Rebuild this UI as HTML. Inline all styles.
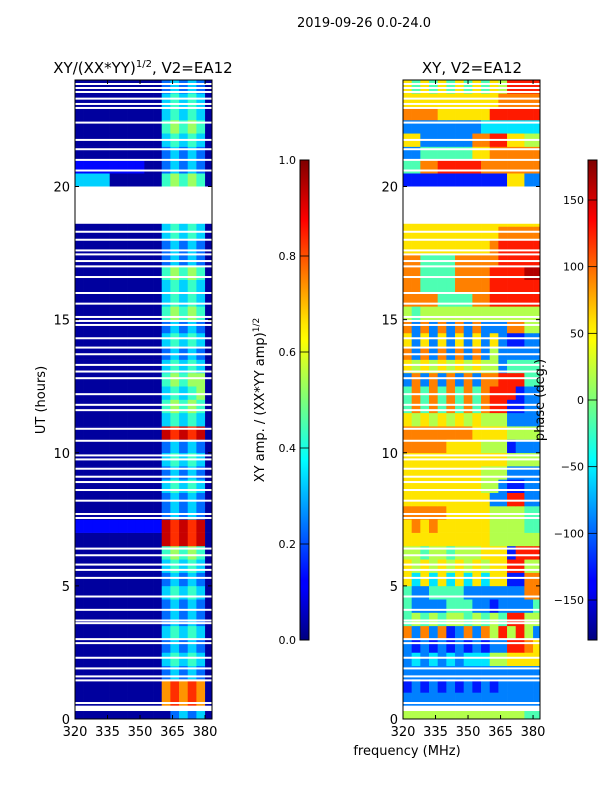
<!DOCTYPE html>
<html><head><meta charset="utf-8">
<style>
html,body{margin:0;padding:0;background:#fff;}
svg{display:block;font-family:"DejaVu Sans","Liberation Sans",sans-serif;}
</style></head>
<body>
<svg id="fig" width="600" height="800" viewBox="0 0 600 800" xmlns="http://www.w3.org/2000/svg">
<defs>
<linearGradient id="jet" x1="0" y1="1" x2="0" y2="0">
<stop offset="0" stop-color="#00007f"/><stop offset="0.11" stop-color="#0000ff"/>
<stop offset="0.125" stop-color="#0000ff"/><stop offset="0.34" stop-color="#00dcff"/>
<stop offset="0.375" stop-color="#00ffff"/><stop offset="0.5" stop-color="#7cff79"/>
<stop offset="0.625" stop-color="#ffff00"/><stop offset="0.66" stop-color="#ffe600"/>
<stop offset="0.875" stop-color="#ff0000"/><stop offset="1" stop-color="#7f0000"/>
</linearGradient>
</defs>
<text x="364" y="27" font-size="13" text-anchor="middle">2019-09-26 0.0-24.0</text>
<text x="143" y="73" font-size="15" text-anchor="middle">XY/(XX*YY)<tspan font-size="10" dy="-6">1/2</tspan><tspan dy="6">, V2=EA12</tspan></text>
<text x="472" y="73" font-size="15" text-anchor="middle">XY, V2=EA12</text>
<g id="leftHeat"></g>
<g id="rightHeat"></g>
<g id="axes"></g>
<text transform="translate(45,400) rotate(-90)" font-size="13" text-anchor="middle">UT (hours)</text>
<text transform="translate(264,400) rotate(-90)" font-size="13" text-anchor="middle">XY amp. / (XX*YY amp)<tspan font-size="9" dy="-5">1/2</tspan></text>
<text transform="translate(544,400) rotate(-90)" font-size="13" text-anchor="middle">phase (deg.)</text>
<text x="407" y="755" font-size="13" text-anchor="middle">frequency (MHz)</text>
</svg>
<script>
const freqTicks=[320,335,350,365,380];
const timeTicks=[0,5,10,15,20];
const ampTicks=[0.0,0.2,0.4,0.6,0.8,1.0];
const phaseTicks=[-150,-100,-50,0,50,100,150];
// amplitude rows (0.5 h each, from 0 h upward), 16 channels 320-384 MHz, digit = tenths
const ampRows=["0000000000023230","0000000000787870","0000000000787870","0000000000232320","0000000000343430","0000000000232320","0000000000343430","0000000000232320","0000000000232320","0000000000343430","0000000000232320","0000000000343430","0000000000454540","0000000000989890","1111111111989890","0000000000232320","0000000000232320","0000000000343430","0000000000232320","0000000000343430","0000000000232320","0000000000989890","0000000000343430","0000000000454540","0000000000343450","0000000000454550","0000000000343430","0000000000232320","0000000000343430","0000000000232320","0000000000454540","0000000000343430","0000000000343430","0000000000454540","0000000000232320","0000000000232320","0000000000343430","0000000000343430","0000000000343430","0000000000343430","3333000000454540","1111111100232320","0000000000232320","0000000000343430","0000000000454540","0000000000343430","0000000000343430","0000000000232320"];
// phase rows, digit d -> -162+36*d degrees
const phaseRows=["5555555555555544","2222222222222222","1212121212122222","2222222222222222","2323232333556666","2121212121228876","7272712727585852","4545455454548855","4222244422122224","4224444222222277","6363636363661177","6565656565668855","5545545556661888","6666666666555555","6767666666555544","7777766666555544","6666666666228822","6666666665521122","6666666665552222","6666666666665555","7777766665551222","7777777766665555","6565656565552222","4747474747881122","4747474747888122","2727272727788844","6565656565524444","7272727272522222","6262626262621122","7272727272227755","5455555555555555","7777444477888888","7744447777888888","7744447777888899","7744447777788888","6666666666788888","6666666666677777","6666666666666666","6666666666666666","6666666666666666","1111111111116622","4477888887777777","2244444466777777","6622222277886655","2222222223333333","7777666666888888","6666666666677777","6464646464658888"];
const blankBands=[[18.6,20.0],[0.3,0.5]];
const whiteLines=[0.6,1.45,1.6,1.9,2.3,2.85,3.0,3.6,3.7,4.1,4.6,5.3,5.6,5.8,6.15,6.4,7.55,7.7,8.2,8.6,8.9,9.1,9.4,9.75,9.9,10.45,10.9,11.6,11.8,12.2,12.8,13.05,13.3,13.7,13.95,14.3,14.8,14.95,15.1,15.6,16.0,16.6,17.0,17.2,17.45,17.6,18.0,18.3,20.6,21.0,21.4,21.75,22.4,22.95,23.1,23.3,23.55,23.7,23.85];

const NS="http://www.w3.org/2000/svg";
const Y0=719,Y1=80;
function yS(h){return Y0-(h/24)*(Y0-Y1);}
function xS(f,x0){return x0+(f-320)/(383.2-320)*137;}
function ampY(v){return 640-v*480;}
function phY(v){return 640-(v+180)/360*480;}
function jet(t){t=Math.max(0,Math.min(1,t));
 const r=Math.min(4*t-1.5,-4*t+4.5),g=Math.min(4*t-0.5,-4*t+3.5),b=Math.min(4*t+0.5,-4*t+2.5);
 const c=v=>Math.round(255*Math.max(0,Math.min(1,v)));return`rgb(${c(r)},${c(g)},${c(b)})`;}
function mk(tag,attrs,parent){const e=document.createElementNS(NS,tag);for(const k in attrs)e.setAttribute(k,attrs[k]);parent.appendChild(e);return e;}
function heat(gid,rows,x0,valFn,nm){
 const g=document.getElementById(gid);
 rows.forEach((row,i)=>{for(let j=0;j<row.length;j++){
  const f0=320+4*j,f1=Math.min(383.2,f0+4);
  const xa=xS(f0,x0),xb=xS(f1,x0);
  const ya=yS((i+1)*0.5),yb=yS(i*0.5);
  const r=mk('rect',{x:xa.toFixed(2),y:ya.toFixed(2),width:(xb-xa+0.3).toFixed(2),height:(yb-ya+0.3).toFixed(2),fill:jet(valFn(+row[j]))},g);
  
  
 }});
 whiteLines.forEach(h=>{const r=mk('rect',{x:x0,y:(yS(h)-1).toFixed(2),width:137,height:2,fill:'#fff'},g);
  
  });
 blankBands.forEach(b=>{const r=mk('rect',{x:x0,y:yS(b[1]),width:137,height:yS(b[0])-yS(b[1]),fill:'#fff'},g);
  
  });
}
heat('leftHeat',ampRows,75,d=>d/10+0.03,'amp-cell');
heat('rightHeat',phaseRows,403,d=>(-162+36*d+180)/360,'phase-cell');

const ax=document.getElementById('axes');
[75,403].forEach((x0,k)=>{
 const fr=mk('rect',{x:x0,y:Y1,width:137,height:Y0-Y1,fill:'none',stroke:'#000','stroke-width':1},ax);
 
 
 freqTicks.forEach(f=>{const x=xS(f,x0);
  mk('line',{x1:x,x2:x,y1:Y0,y2:Y0-4,stroke:'#000'},ax);mk('line',{x1:x,x2:x,y1:Y1,y2:Y1+4,stroke:'#000'},ax);
  const t=mk('text',{x:x,y:Y0+17,'font-size':13,'text-anchor':'middle'},ax);t.textContent=f;
  
  });
 timeTicks.forEach(h=>{const y=yS(h);
  mk('line',{x1:x0,x2:x0+4,y1:y,y2:y,stroke:'#000'},ax);mk('line',{x1:x0+137,x2:x0+133,y1:y,y2:y,stroke:'#000'},ax);
  const t=mk('text',{x:x0-5,y:y+5,'font-size':13,'text-anchor':'end'},ax);t.textContent=h;
  
  });
});
[[300,ampTicks,ampY,v=>v.toFixed(1),'amp-colorbar'],[588,phaseTicks,phY,v=>v<0?'\u2212'+(-v):''+v,'phase-colorbar']].forEach(c=>{
 const r=mk('rect',{x:c[0],y:160,width:9,height:480,fill:'url(#jet)',stroke:'#000','stroke-width':1},ax);
 
 
 c[1].forEach(v=>{const y=c[2](v);
  mk('line',{x1:c[0],x2:c[0]+9,y1:y,y2:y,stroke:'#000','stroke-width':0.8},ax);
  const t=mk('text',{x:c[0]-4,y:y+4,'font-size':11,'text-anchor':'end'},ax);t.textContent=c[3](v);
  
  });
});
</script>
</body></html>
